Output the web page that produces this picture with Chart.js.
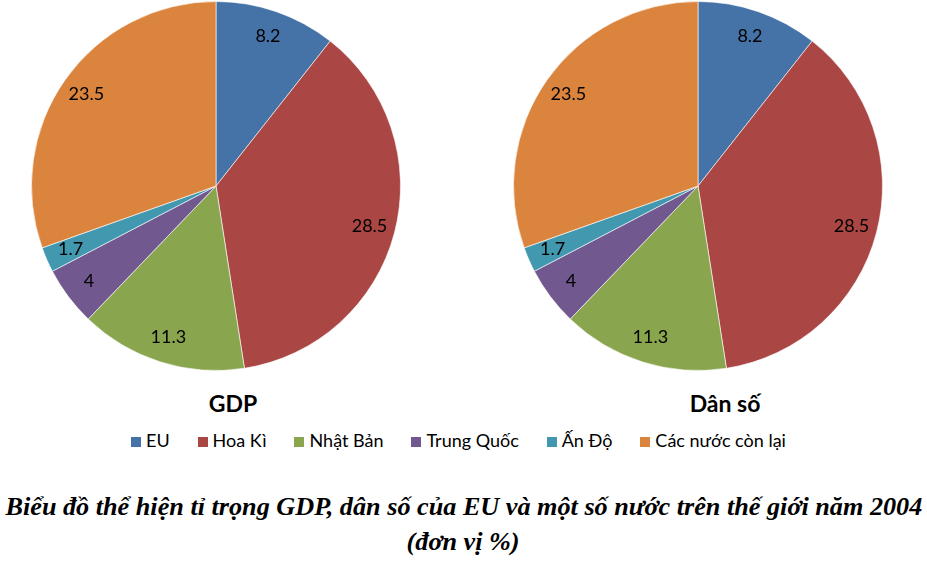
<!DOCTYPE html>
<html lang="vi">
<head>
    <meta charset="UTF-8">
    <title>Tỉ trọng GDP, dân số của EU</title>
    <script src="https://cdn.jsdelivr.net/npm/chart.js"></script>
    <style>
        body {
            margin: 0;
            background: #fff;
            width: 927px;
            height: 563px;
            position: relative;
            overflow: hidden;
            font-family: Lato, "Open Sans", sans-serif;
        }
        .pie {
            position: absolute;
            top: 1px;
            width: 370px;
            height: 370px;
        }
        .title {
            position: absolute;
            top: 389px;
            font-weight: bold;
            font-size: 23px;
            color: #000;
            text-align: center;
            width: 200px;
        }
        #legend {
            position: absolute;
            top: 429px;
            left: 131px;
            width: 655px;
            display: flex;
            justify-content: space-between;
            align-items: center;
            font-size: 18px;
            white-space: nowrap;
        }
        #legend span.box {
            display: inline-block;
            width: 10px;
            height: 10px;
            margin-right: 5px;
        }
        .caption {
            position: absolute;
            left: 0;
            width: 927px;
            text-align: center;
            font-family: "Liberation Serif", serif;
            font-style: italic;
            font-weight: bold;
            font-size: 26px;
            line-height: 30px;
            white-space: nowrap;
        }
        .caption span { display: inline-block; }
    </style>
</head>
<body>
    <div class="pie" style="left:31px"><canvas id="gdp"></canvas></div>
    <div class="pie" style="left:513px"><canvas id="danso"></canvas></div>
    <div class="title" style="left:133px">GDP</div>
    <div class="title" style="left:625px">Dân số</div>
    <div id="legend"></div>
    <div class="caption" style="top:492px"><span id="cap1">Biểu đồ thể hiện tỉ trọng GDP, dân số của EU và một số nước trên thế giới năm 2004</span></div>
    <div class="caption" style="top:527px"><span id="cap2">(đơn vị %)</span></div>

    <script>
        const categories = ["EU", "Hoa Kì", "Nhật Bản", "Trung Quốc", "Ấn Độ", "Các nước còn lại"];
        const gdpValues = [8.2, 28.5, 11.3, 4, 1.7, 23.5];
        const populationValues = [8.2, 28.5, 11.3, 4, 1.7, 23.5];
        const colors = ["#4572A7", "#AA4643", "#89A54E", "#71588F", "#4198AF", "#DB843D"];

        // nhãn số liệu bên trong lát bánh
        const sliceLabels = {
            id: "sliceLabels",
            afterDatasetsDraw(chart) {
                const ctx = chart.ctx;
                const meta = chart.getDatasetMeta(0);
                ctx.save();
                ctx.font = "18px Lato, sans-serif";
                ctx.fillStyle = "#000";
                ctx.textAlign = "center";
                ctx.textBaseline = "middle";
                meta.data.forEach((arc, i) => {
                    const mid = (arc.startAngle + arc.endAngle) / 2;
                    const r = arc.outerRadius * 0.86;
                    ctx.fillText(String(chart.data.datasets[0].data[i]), arc.x + Math.cos(mid) * r, arc.y + Math.sin(mid) * r);
                });
                ctx.restore();
            }
        };

        function makePie(id, values) {
            new Chart(document.getElementById(id), {
                type: "pie",
                data: {
                    labels: categories,
                    datasets: [{
                        data: values,
                        backgroundColor: colors,
                        borderColor: "rgba(255,255,255,0.6)",
                        borderWidth: 1
                    }]
                },
                options: {
                    responsive: true,
                    maintainAspectRatio: false,
                    animation: false,
                    plugins: {
                        legend: { display: false },
                        tooltip: { enabled: false }
                    }
                },
                plugins: [sliceLabels]
            });
        }

        makePie("gdp", gdpValues);
        makePie("danso", populationValues);

        const legend = document.getElementById("legend");
        categories.forEach((name, i) => {
            const item = document.createElement("span");
            item.innerHTML = '<span class="box" style="background:' + colors[i] + '"></span>' + name;
            legend.appendChild(item);
        });

        // chữ chú thích hẹp ngang như ảnh gốc
        const cap1 = document.getElementById("cap1");
        const sx = 917 / cap1.offsetWidth;
        cap1.style.transform = "scaleX(" + sx + ")";
        document.getElementById("cap2").style.transform = "scaleX(" + sx + ")";
    </script>
</body>
</html>
